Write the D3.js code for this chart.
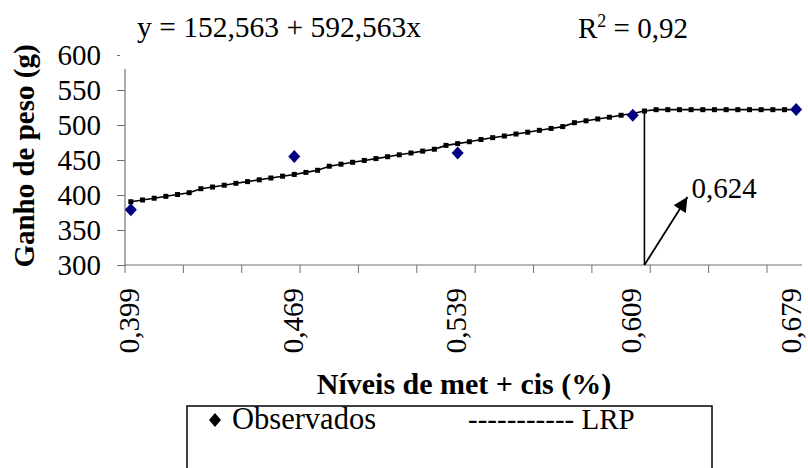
<!DOCTYPE html>
<html>
<head>
<meta charset="utf-8">
<script src="https://cdn.jsdelivr.net/npm/d3@7"></script>
<style>
  body { margin: 0; background: #fff; }
  svg, svg text { font-family: "Liberation Serif", "Times New Roman", serif !important; fill: #000; }
</style>
</head>
<body>
<div id="chart"></div>
<script>
// valores
const categoryCount = 58;
const lrpValues = [
  390.4, 392.9, 395.4, 398.1, 400.7, 403.3, 409.0, 411.4, 414.0, 416.7,
  419.1, 421.7, 424.3, 426.9, 429.4, 432.3, 435.3, 441.1, 444.0, 446.7,
  449.4, 452.0, 454.7, 457.4, 460.0, 462.7, 465.4, 470.9, 473.4, 476.1,
  479.3, 481.9, 484.3, 487.1, 489.7, 492.4, 495.1, 497.7, 503.3, 506.0,
  508.6, 511.1, 513.9, 516.4, 520.0, 521.9, 521.9, 521.9, 521.9, 521.9,
  521.9, 521.9, 521.9, 521.9, 521.9, 521.9, 521.9, 521.9
];
const obsIndex = [0, 14, 28, 43, 57];
const obsValues = [379, 455, 460, 514, 522];
const xLabels = ["0,399", "0,469", "0,539", "0,609", "0,679"];
const yTicks = [300, 350, 400, 450, 500, 550, 600];
const breakIndex = 44;
const breakLabel = "0,624";

const width = 808, height = 468;
const fs = 29;
const serif = "Liberation Serif";

const svg = d3.select("#chart").append("svg")
    .attr("width", width)
    .attr("height", height)
    .attr("font-family", serif);

const x = d3.scaleBand()
    .domain(d3.range(categoryCount))
    .range([125, 802]);
const cx = i => x(i) + x.bandwidth() / 2;

const y = d3.scaleLinear()
    .domain([300, 600])
    .range([265, 55]);

// eixo y
const yAxis = svg.append("g")
    .attr("transform", "translate(125,0)")
    .call(d3.axisLeft(y).tickValues(yTicks).tickSize(8).tickPadding(16))
    .attr("font-family", serif)
    .attr("font-size", fs);
yAxis.select(".domain").remove();
yAxis.selectAll("line").attr("stroke", "#707070");
yAxis.selectAll(".tick").filter(d => d === 600).select("line")
    .attr("x1", -5).attr("x2", -8);
yAxis.selectAll("text")
    .attr("font-family", serif)
    .style("font-size", fs + "px")
    .attr("fill", "#000");

svg.append("line")
    .attr("x1", 125).attr("x2", 125)
    .attr("y1", y(580)).attr("y2", y(300))
    .attr("stroke", "#707070").attr("stroke-width", 1.2);

// eixo x
svg.append("line")
    .attr("x1", 125).attr("x2", 802)
    .attr("y1", y(300)).attr("y2", y(300))
    .attr("stroke", "#707070").attr("stroke-width", 1.2);

svg.selectAll("line.xtick")
    .data(d3.range(0, categoryCount, 5))
    .enter().append("line")
    .attr("class", "xtick")
    .attr("x1", d => x(d)).attr("x2", d => x(d))
    .attr("y1", y(300)).attr("y2", y(300) + 8)
    .attr("stroke", "#707070");

// o último rótulo fica encostado na borda
svg.selectAll("text.xlab")
    .data(xLabels)
    .enter().append("text")
    .attr("class", "xlab")
    .attr("transform", (d, i) => `translate(${Math.min(cx(obsIndex[i]) - 1, 792)},288) rotate(-90)`)
    .attr("text-anchor", "end")
    .attr("dy", "0.32em")
    .style("font-size", fs + "px")
    .text(d => d);

// linha LRP
const line = d3.line()
    .x((d, i) => cx(i))
    .y(d => y(d));

svg.append("path")
    .datum(lrpValues)
    .attr("d", line)
    .attr("fill", "none")
    .attr("stroke", "#000")
    .attr("stroke-width", 1.6);

svg.selectAll("rect.lrp")
    .data(lrpValues)
    .enter().append("rect")
    .attr("class", "lrp")
    .attr("x", (d, i) => cx(i) - 2.5)
    .attr("y", d => y(d) - 2.5)
    .attr("width", 5)
    .attr("height", 5)
    .attr("fill", "#000");

// observados
const diamond = "M0,-6.5L6,0L0,6.5L-6,0Z";
svg.selectAll("path.obs")
    .data(obsValues)
    .enter().append("path")
    .attr("class", "obs")
    .attr("d", diamond)
    .attr("transform", (d, i) => `translate(${cx(obsIndex[i])},${y(d)})`)
    .attr("fill", "#000080");

// ponto de quebra
const bx = cx(breakIndex);
svg.append("line")
    .attr("x1", bx).attr("x2", bx)
    .attr("y1", y(lrpValues[breakIndex])).attr("y2", y(300))
    .attr("stroke", "#000").attr("stroke-width", 1.6);

svg.append("defs").append("marker")
    .attr("id", "arrow")
    .attr("viewBox", "0 0 10 10")
    .attr("refX", 10).attr("refY", 5)
    .attr("markerWidth", 9).attr("markerHeight", 8)
    .attr("markerUnits", "strokeWidth")
    .attr("orient", "auto")
    .append("path")
    .attr("d", "M0,0L10,5L0,10Z")
    .attr("fill", "#000");

svg.append("line")
    .attr("x1", bx).attr("y1", y(300))
    .attr("x2", bx + 43).attr("y2", 197)
    .attr("stroke", "#000").attr("stroke-width", 1.8)
    .attr("marker-end", "url(#arrow)");

svg.append("text")
    .attr("x", bx + 47).attr("y", 198)
    .style("font-size", fs + "px")
    .text(breakLabel);

// equação
svg.append("text")
    .attr("x", 137).attr("y", 37)
    .style("font-size", "29.5px")
    .text("y = 152,563 + 592,563x");

const r2 = svg.append("text")
    .attr("x", 578).attr("y", 38)
    .style("font-size", fs + "px");
r2.append("tspan").text("R");
r2.append("tspan").attr("dy", -11).style("font-size", "18px").text("2");
r2.append("tspan").attr("dy", 11).text(" = 0,92");

// títulos
svg.append("text")
    .attr("transform", "translate(34,156) rotate(-90)")
    .attr("text-anchor", "middle")
    .style("font-size", fs + "px")
    .style("font-weight", "bold")
    .text("Ganho de peso (g)");

svg.append("text")
    .attr("x", 464).attr("y", 394)
    .attr("text-anchor", "middle")
    .style("font-size", "30px")
    .style("font-weight", "bold")
    .text("Níveis de met + cis (%)");

// legenda
svg.append("rect")
    .attr("x", 187).attr("y", 406)
    .attr("width", 525).attr("height", 80)
    .attr("fill", "none")
    .attr("stroke", "#000")
    .attr("stroke-width", 1.5);

svg.append("path")
    .attr("d", "M0,-7L6,0L0,7L-6,0Z")
    .attr("transform", "translate(215,420)")
    .attr("fill", "#000");

svg.append("text")
    .attr("x", 232).attr("y", 429)
    .style("font-size", "30.5px")
    .text("Observados");

svg.append("text")
    .attr("x", 468).attr("y", 429)
    .style("font-size", fs + "px")
    .text("----------- LRP");
</script>
</body>
</html>
